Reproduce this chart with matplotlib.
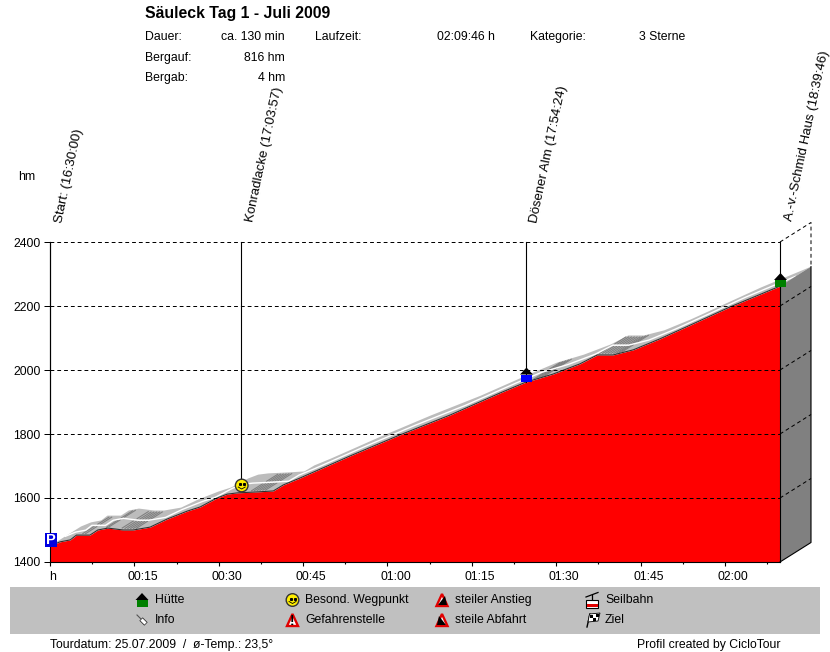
import numpy as np
import matplotlib
matplotlib.use("Agg")
import matplotlib.pyplot as plt
from matplotlib.patches import Polygon, Rectangle, Circle
from matplotlib.transforms import ScaledTranslation

plt.rcParams['font.family'] = ['Liberation Sans', 'DejaVu Sans']

# profile: minutes since start, height in hm
minutes = [0, 1.8, 3.6, 4.7, 7.1, 8.5, 10.3, 13.0, 14.8, 17.8, 20.8, 24.4, 26.7, 29.7,
           31.5, 33.3, 36.8, 39.7, 41.5, 44.4, 53.3, 62.2, 71.1, 80.0, 84.6, 89.4, 94.2,
           97.3, 100.1, 103.7, 108.4, 113.8, 120.9, 129.78]
height = [1450, 1463, 1469, 1484, 1484, 1500, 1506, 1500, 1500, 1509, 1534, 1559, 1572, 1600,
          1612, 1616, 1619, 1622, 1641, 1662, 1731, 1797, 1859, 1928, 1962, 1987, 2019,
          2047, 2047, 2063, 2097, 2140, 2197, 2262]

grid_hm = [1400, 1600, 1800, 2000, 2200, 2400]
tick_min = [0, 15, 30, 45, 60, 75, 90, 105, 120]
tick_lab = ["", "00:15", "00:30", "00:45", "01:00", "01:15", "01:30", "01:45", "02:00"]

# waypoints
wp_min = [0, 33.9, 84.6, 129.78]
wp_hm = [1450, 1625, 1962, 2262]
wp_lab = ["Start: (16:30:00)", "Konradlacke (17:03:57)", "Dösener Alm (17:54:24)",
          "A.-v.-Schmid Haus (18:39:46)"]

# stretches of the track drawn with darker stripes (minutes)
dark_from = [5.4, 9.6, 12.4, 35.4, 85.6, 97.3]
dark_to = [6.2, 10.4, 15.2, 38.4, 88.0, 101.5]

W, H = 830, 652
fig = plt.figure(figsize=(W/100, H/100), dpi=100)

ax = fig.add_axes([50/W, 1-562/H, 730/W, 320/H], zorder=1)
ax.patch.set_alpha(0)
ax.set_xlim(0, 129.78)
ax.set_ylim(1400, 2400)

# 3d offset of the ribbon in data units
dx = 31/5.625
dy = 19.5*3.125
xend = 129.78
xmax = xend + dx
dash = (3.8, 3)

x = np.array(minutes)
y = np.array(height)

# ribbon
band = np.r_[np.c_[x, y], np.c_[x+dx, y+dy][::-1]]
ax.add_patch(Polygon(band, fc='#bcbcbc', ec='none', zorder=2, clip_on=False))
for m0, m1 in zip(dark_from, dark_to):
    for m in np.arange(m0, m1, 0.5):
        h = np.interp(m, x, y)
        for t0, t1 in [(0.08, 0.44), (0.56, 0.92)]:
            ax.plot([m+dx*t0, m+dx*t1], [h+dy*t0, h+dy*t1], color='#808080', lw=0.8,
                    zorder=3, clip_on=False)
ax.plot(x+dx*.5, y+dy*.5, color='white', lw=1.0, zorder=4, clip_on=False)

# profile
ax.fill_between(x, 1400, y, color='#ff0000', lw=0, zorder=5)
ax.plot(x, y, color='#303030', lw=0.8, zorder=5.5)

# side wall
wall = [(xend, 1400), (xmax, 1400+dy), (xmax, 2262+dy), (xend, 2262)]
ax.add_patch(Polygon(wall, fc='#808080', ec='none', zorder=6, clip_on=False))
ax.plot([xend, xmax, xmax], [1400, 1400+dy, 2262+dy], color='k', lw=0.8, zorder=7, clip_on=False)
ax.plot([xend, xend], [1400, 2262], color='k', lw=0.8, zorder=7, clip_on=False)

# dashed grid on top of the profile, and round the corner
for h in grid_hm[1:]:
    ax.plot([0, xend], [h, h], color='k', lw=0.72, dashes=dash, zorder=7, clip_on=False)
    if h < 2262:
        ax.plot([xend, xmax], [h, h+dy], color='k', lw=0.72, dashes=dash, zorder=7, clip_on=False)
ax.plot([xend, xmax, xmax], [2400, 2400+dy, 2262+dy], color='k', lw=0.72, dashes=dash,
        zorder=7, clip_on=False)

# waypoint lines
for m, h in zip(wp_min, wp_hm):
    ax.plot([m, m], [h, 2400], color='k', lw=0.8, zorder=7, clip_on=False)

for s in ['top', 'right']:
    ax.spines[s].set_visible(False)
ax.spines['left'].set_linewidth(0.8)
ax.spines['bottom'].set_linewidth(0.8)
ax.spines['left'].set_zorder(8)
ax.spines['bottom'].set_zorder(8)
ax.set_yticks(grid_hm)
ax.tick_params(axis='y', length=4.3, width=0.72, labelsize=8.8, pad=2.4)
ax.set_xticks(tick_min)
ax.set_xticklabels(tick_lab, fontsize=8.8)
ax.set_xticks(list(np.arange(7.5, 129, 15)), minor=True)
ax.tick_params(axis='x', which='major', length=3, width=0.8, pad=3.5)
ax.tick_params(axis='x', which='minor', length=1.3, width=0.8)
shift = ScaledTranslation(8/100, 0, fig.dpi_scale_trans)
for t in ax.get_xticklabels():
    t.set_transform(t.get_transform() + shift)

ov = fig.add_axes([0, 0, 1, 1], zorder=2)
ov.set_xlim(0, W)
ov.set_ylim(H, 0)
ov.axis('off')


def hut(px, py, col):
    ov.add_patch(Rectangle((px-5.5, py), 11, 7, fc=col, ec='none', zorder=10))
    ov.add_patch(Polygon([(px-6.5, py), (px, py-7), (px+6.5, py)], fc='k', ec='none', zorder=11))


def smiley(px, py, r=6.3):
    ov.add_patch(Circle((px, py), r, fc='#ffee00', ec='#333333', lw=1.0, zorder=10))
    ov.plot([px-2, px+2], [py-1.5, py-1.5], ls='none', marker='s', ms=1.2, color='k', zorder=11)
    ov.plot([px-3.5, px, px+3.5], [py+1.5, py+3.5, py+1.5], color='k', lw=0.6, zorder=11)


def warn(px, py, fill='white'):
    ov.add_patch(Polygon([(px-5.5, py+6), (px, py-6), (px+5.5, py+6)], fc=fill, ec='#e00000',
                         lw=1.7, zorder=10))


label_px = [(65, 224), (256, 223), (540, 224), (795, 222)]
for (px, py), s in zip(label_px, wp_lab):
    ov.text(px, py, s, rotation=78, rotation_mode='anchor', ha='left', va='bottom',
            fontsize=9.5, color='k')

ov.add_patch(Rectangle((45, 533), 12, 14, fc='#0000e0', ec='none', zorder=10))
ov.text(51, 540, 'P', color='white', fontsize=10.5, fontweight='bold', ha='center', va='center', zorder=11)
smiley(241.7, 485.5)
hut(526.5, 374.5, '#0000ff')
hut(780.5, 280, '#008000')

# header
ov.text(145, 13.5, 'Säuleck Tag 1 - Juli 2009', fontsize=11.4, fontweight='bold', va='center')
ts = 8.8
for py, a, b in [(37, 'Dauer:', 'ca. 130 min'), (58, 'Bergauf:', '816 hm'), (78, 'Bergab:', '4 hm')]:
    ov.text(145, py, a, fontsize=ts, va='center')
    ov.text(285, py, b, fontsize=ts, va='center', ha='right')
ov.text(315, 37, 'Laufzeit:', fontsize=ts, va='center')
ov.text(495, 37, '02:09:46 h', fontsize=ts, va='center', ha='right')
ov.text(530, 37, 'Kategorie:', fontsize=ts, va='center')
ov.text(685, 37, '3 Sterne', fontsize=ts, va='center', ha='right')
ov.text(18, 177, 'hm', fontsize=ts, va='center')
ov.text(49, 577, 'h', fontsize=ts, va='center')

# legend band
ov.add_patch(Rectangle((10, 587), 810, 47, fc='#c0c0c0', ec='none', zorder=1))
hut(142, 600, '#008000')
ov.text(155, 600, 'Hütte', fontsize=ts, va='center')
ov.plot([137, 141], [615, 619], color='#555555', lw=0.8, zorder=10)
ov.plot([141, 146], [619, 624], color='#333333', lw=3.4, zorder=10, solid_capstyle='butt')
ov.plot([141.5, 145.5], [619.5, 623.5], color='white', lw=2.2, zorder=11, solid_capstyle='butt')
ov.text(155, 620, 'Info', fontsize=ts, va='center')
smiley(292.5, 600)
ov.text(305, 600, 'Besond. Wegpunkt', fontsize=ts, va='center')
warn(292.5, 620)
ov.text(292.5, 621, '!', fontsize=10, fontweight='bold', ha='center', va='center', zorder=11)
ov.text(305, 620, 'Gefahrenstelle', fontsize=ts, va='center')
warn(442, 600)
ov.add_patch(Polygon([(438, 605), (445, 596), (447, 605)], fc='k', ec='none', zorder=11))
ov.text(455, 600, 'steiler Anstieg', fontsize=ts, va='center')
warn(442, 620)
ov.add_patch(Polygon([(437, 625), (439, 616), (446, 625)], fc='k', ec='none', zorder=11))
ov.text(455, 620, 'steile Abfahrt', fontsize=ts, va='center')
# Seilbahn icon
ov.plot([586, 598], [597, 592.5], color='k', lw=0.9, zorder=10)
ov.plot([592, 592], [595, 600], color='k', lw=0.9, zorder=10)
ov.add_patch(Rectangle((586, 600), 12, 7.5, fc='white', ec='k', lw=0.8, zorder=10))
ov.add_patch(Rectangle((586.5, 603.5), 11, 3.5, fc='#e00000', ec='none', zorder=11))
ov.text(605, 600, 'Seilbahn', fontsize=ts, va='center')
# Ziel icon
ov.plot([587, 590], [627, 614], color='k', lw=1, zorder=10)
ov.add_patch(Polygon([(589.5, 614), (600, 613), (598, 621), (588, 622)], fc='white', ec='k', lw=0.6, zorder=10))
ov.add_patch(Rectangle((590, 614.5), 3, 3, fc='k', ec='none', zorder=11))
ov.add_patch(Rectangle((596, 614), 3, 3, fc='k', ec='none', zorder=11))
ov.add_patch(Rectangle((593, 617.5), 3, 3, fc='k', ec='none', zorder=11))
ov.text(605, 620, 'Ziel', fontsize=ts, va='center')

# footer
ov.text(50, 645, 'Tourdatum: 25.07.2009  /  ø-Temp.: 23,5°', fontsize=ts, va='center')
ov.text(780, 645, 'Profil created by CicloTour', fontsize=ts, va='center', ha='right')

fig.savefig('out.png', dpi=100)
